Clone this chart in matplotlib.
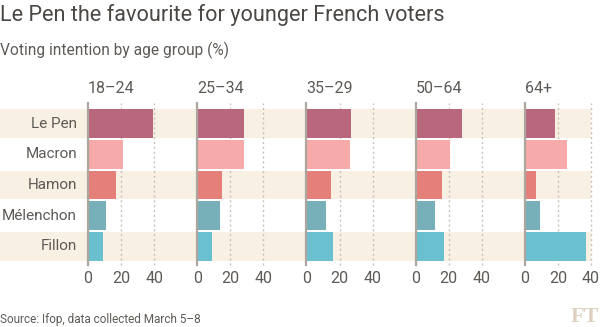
import matplotlib
matplotlib.use("Agg")
import matplotlib.pyplot as plt
from matplotlib.transforms import blended_transform_factory

################################################################################
#  Data: voting intention (%) by age group, Ifop, March 5-8
################################################################################

age_groups = ["18–24", "25–34", "35–29", "50–64", "64+"]
candidates = ["Le Pen", "Macron", "Hamon", "Mélenchon", "Fillon"]

le_pen = [39, 28, 27, 28, 18]
macron = [21, 28.5, 26.5, 21, 25.5]
hamon = [17, 15, 15, 16, 7]
melenchon = [11, 14, 12, 12, 9]
fillon = [9, 9, 16, 17, 37]

tick_values = [0, 20, 40]

################################################################################
#  Styling
################################################################################

plt.rcParams["font.family"] = ["Roboto", "DejaVu Sans"]

bar_colors = ["#b9677c", "#f6aaaa", "#e47f7a", "#77b0b8", "#6bc0cf"]
band_color = "#f9f0e4"
text_grey = "#5e5a56"
title_grey = "#4a4744"
axis_grey = "#aca69f"
grid_grey = "#c9c1b7"

W, H = 600, 327
fig = plt.figure(figsize=(W / 100, H / 100), dpi=100)

def fx(px):
    return px / W

def fy(py):
    # pixel from the top -> figure fraction from the bottom
    return 1 - py / H

plot_top, plot_bottom = 103, 265
plot_left, plot_right = 88, 591
ylims = (4.61, -0.67)
bar_height = 0.93

# background bands, running under the row labels too
bg = fig.add_axes([0, fy(plot_bottom), fx(plot_right), fy(plot_top) - fy(plot_bottom)])
bg.set_xlim(0, 1)
bg.set_ylim(*ylims)
bg.barh([0, 2, 4], [1, 1, 1], height=bar_height, color=band_color, linewidth=0)
bg.axis("off")

# one panel per age group; the last one stops at 40
width_units = [66, 66, 66, 66, 40]
gs = fig.add_gridspec(1, 5, left=fx(plot_left), right=fx(plot_right),
                      bottom=fy(plot_bottom), top=fy(plot_top),
                      width_ratios=width_units, wspace=0)

series = [le_pen, macron, hamon, melenchon, fillon]
header_y = 1 + (plot_top - 93) / (plot_bottom - plot_top)

for i, group in enumerate(age_groups):
    ax = fig.add_subplot(gs[0, i])
    ax.patch.set_alpha(0)
    values = [s[i] for s in series]
    ax.barh(range(len(candidates)), values, height=bar_height,
            color=bar_colors, linewidth=0, zorder=2)
    ax.set_xlim(0, width_units[i])
    ax.set_ylim(*ylims)

    for t in tick_values[1:]:
        ax.axvline(t, color=grid_grey, linestyle=(0, (1.5, 2)), linewidth=1,
                   zorder=1, clip_on=False)
    ax.axvline(0, color=axis_grey, linewidth=1.6, zorder=3, clip_on=False)

    for spine in ax.spines.values():
        spine.set_visible(False)
    ax.set_xticks(tick_values)
    ax.set_xticklabels([str(t) for t in tick_values])
    ax.tick_params(axis="x", length=0, pad=4, labelsize=11.5, labelcolor=text_grey)
    ax.set_yticks([])

    ax.text(0, header_y, group, transform=ax.get_xaxis_transform(),
            fontsize=11.5, color=text_grey, va="baseline", ha="left")

    if i == 0:
        label_tf = blended_transform_factory(fig.transFigure, ax.transData)
        for j, name in enumerate(candidates):
            ax.text(fx(77), j, name, transform=label_tf,
                    fontsize=11, color=text_grey, ha="right", va="center")

fig.text(0, fy(21), "Le Pen the favourite for younger French voters",
         fontsize=15.6, color=title_grey, va="baseline", ha="left")
fig.text(0, fy(55), "Voting intention by age group (%)",
         fontsize=11.2, color=text_grey, va="baseline", ha="left")
fig.text(0, fy(323), "Source: Ifop, data collected March 5–8",
         fontsize=8.5, color=text_grey, va="baseline", ha="left")
fig.text(fx(599), fy(322), "FT", family="Liberation Serif", weight="bold",
         fontsize=16, color="#ddd0bf", va="baseline", ha="right")

fig.savefig("out.png", dpi=100, transparent=True)
